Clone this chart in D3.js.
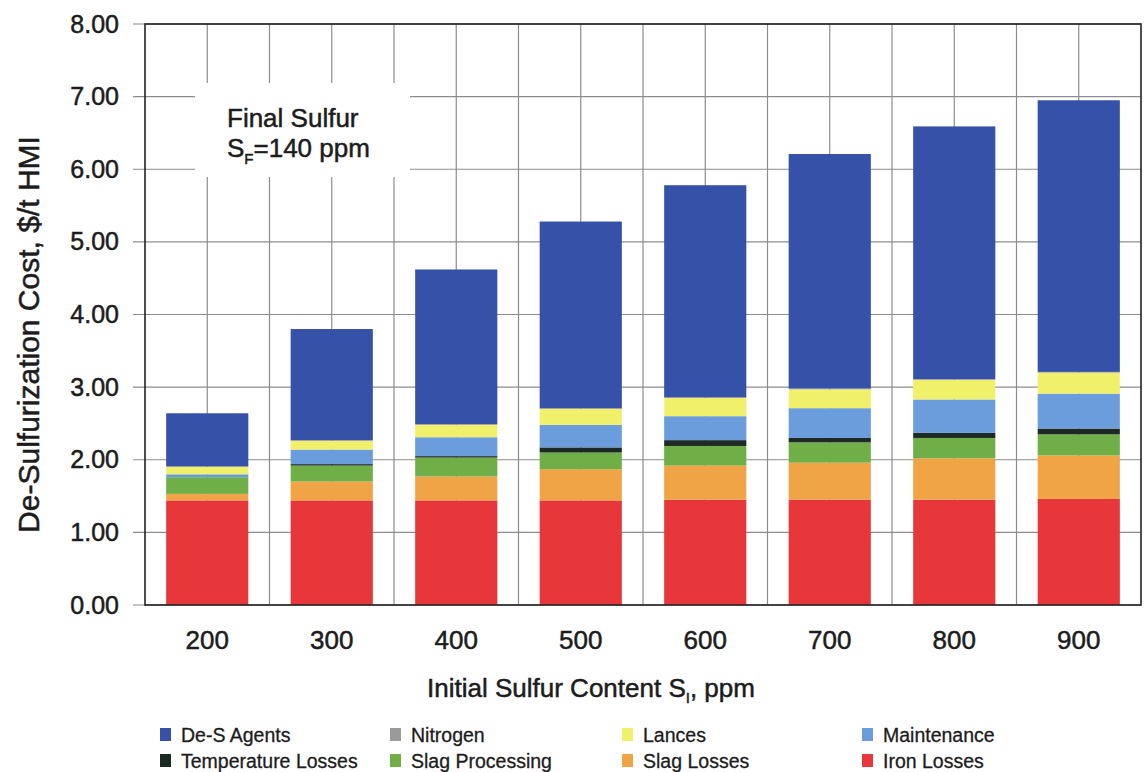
<!DOCTYPE html>
<html>
<head>
<meta charset="utf-8">
<script src="https://cdn.jsdelivr.net/npm/d3@7"></script>
<style>
  html, body { margin: 0; padding: 0; background: #fff; }
  svg { display: block; font-family: "Liberation Sans", Arial, Helvetica, sans-serif; }
</style>
</head>
<body>
<svg id="chart" width="1144" height="772"></svg>
<script>
// Initial sulfur content categories (ppm)
const categories = ["200", "300", "400", "500", "600", "700", "800", "900"];

// Cost components, $/t HMI, listed bottom of the stack first
const ironLosses      = [1.44, 1.44, 1.44, 1.44, 1.45, 1.45, 1.45, 1.46];
const slagLosses      = [0.09, 0.26, 0.33, 0.43, 0.47, 0.51, 0.57, 0.60];
const slagProcessing  = [0.23, 0.22, 0.26, 0.23, 0.27, 0.28, 0.28, 0.29];
const temperatureLoss = [0.00, 0.02, 0.02, 0.07, 0.08, 0.06, 0.07, 0.08];
const maintenance     = [0.04, 0.20, 0.26, 0.31, 0.33, 0.41, 0.46, 0.48];
const lances          = [0.10, 0.12, 0.17, 0.22, 0.25, 0.26, 0.27, 0.29];
const nitrogen        = [0.01, 0.01, 0.01, 0.01, 0.01, 0.01, 0.01, 0.01];
const deSAgents       = [0.73, 1.53, 2.13, 2.57, 2.92, 3.23, 3.48, 3.74];

// Value axis ticks
const yTicks = [0, 1, 2, 3, 4, 5, 6, 7, 8];

// Series keys in stacking order (bottom to top)
const stackKeys = ["Iron Losses", "Slag Losses", "Slag Processing", "Temperature Losses",
                   "Maintenance", "Lances", "Nitrogen", "De-S Agents"];
const seriesValues = {
  "Iron Losses": ironLosses,
  "Slag Losses": slagLosses,
  "Slag Processing": slagProcessing,
  "Temperature Losses": temperatureLoss,
  "Maintenance": maintenance,
  "Lances": lances,
  "Nitrogen": nitrogen,
  "De-S Agents": deSAgents
};

// Legend layout order (two rows of four)
const legendOrder = ["De-S Agents", "Nitrogen", "Lances", "Maintenance",
                     "Temperature Losses", "Slag Processing", "Slag Losses", "Iron Losses"];

const colors = {
  "De-S Agents": "#3651a8",
  "Nitrogen": "#9a9a9a",
  "Lances": "#f1f06a",
  "Maintenance": "#6b9ddd",
  "Temperature Losses": "#1d2a24",
  "Slag Processing": "#70ae48",
  "Slag Losses": "#f0a445",
  "Iron Losses": "#e8373a"
};

const svg = d3.select("#chart");
const plot = { left: 145, right: 1141, top: 24, bottom: 605 };

const x = d3.scaleBand()
  .domain(categories)
  .range([plot.left, plot.right])
  .paddingInner(0.34)
  .paddingOuter(0.17);

const y = d3.scaleLinear()
  .domain([0, 8])
  .range([plot.bottom, plot.top]);

const rows = categories.map((c, i) => {
  const r = { category: c };
  stackKeys.forEach(k => { r[k] = seriesValues[k][i]; });
  return r;
});
const stacked = d3.stack().keys(stackKeys)(rows);

const gridColor = "#8c8c8c";
const textColor = "#1c1c1c";

// Slightly heavier text, like the printed labels
function heavy(sel, w) {
  return sel.attr("stroke", textColor).attr("stroke-width", w).attr("paint-order", "stroke");
}

// Horizontal gridlines (extending left of the axis as tick marks)
svg.append("g")
  .selectAll("line")
  .data(yTicks)
  .join("line")
  .attr("x1", plot.left - 12)
  .attr("x2", plot.right)
  .attr("y1", d => y(d))
  .attr("y2", d => y(d))
  .attr("stroke", gridColor)
  .attr("stroke-width", 1.2);

// Vertical gridlines at category centres and midway between categories
const step = x.step();
const vLines = [];
categories.forEach((c, i) => {
  const cx = x(c) + x.bandwidth() / 2;
  vLines.push(cx);
  if (i < categories.length - 1) vLines.push(cx + step / 2);
});
svg.append("g")
  .selectAll("line")
  .data(vLines)
  .join("line")
  .attr("x1", d => d)
  .attr("x2", d => d)
  .attr("y1", plot.top)
  .attr("y2", plot.bottom)
  .attr("stroke", gridColor)
  .attr("stroke-width", 1.2);

// Annotation box masking the grid
svg.append("rect")
  .attr("x", 195).attr("y", 83)
  .attr("width", 215).attr("height", 94)
  .attr("fill", "#fff");

const note = svg.append("g")
  .attr("fill", textColor)
  .attr("font-size", 26);
heavy(note, 0.5);
note.append("text")
  .attr("x", 227).attr("y", 127)
  .text("Final Sulfur");
const sf = note.append("text")
  .attr("x", 227).attr("y", 157);
sf.append("tspan").text("S");
sf.append("tspan").attr("font-size", 15).attr("dy", 7).text("F");
sf.append("tspan").attr("dy", -7).text("=140 ppm");

// Stacked bars
svg.append("g")
  .selectAll("g")
  .data(stacked)
  .join("g")
  .attr("fill", d => colors[d.key])
  .selectAll("rect")
  .data(d => d)
  .join("rect")
  .attr("x", d => x(d.data.category))
  .attr("width", x.bandwidth())
  .attr("y", d => y(d[1]))
  .attr("height", d => Math.max(0, y(d[0]) - y(d[1])));

// Plot frame
svg.append("rect")
  .attr("x", plot.left).attr("y", plot.top)
  .attr("width", plot.right - plot.left)
  .attr("height", plot.bottom - plot.top)
  .attr("fill", "none")
  .attr("stroke", "#222")
  .attr("stroke-width", 1.6);

// Y axis labels
const yAxis = d3.axisLeft(y)
  .tickValues(yTicks)
  .tickFormat(d3.format(".2f"))
  .tickSize(0)
  .tickPadding(26);
const gy = svg.append("g")
  .attr("transform", `translate(${plot.left},0)`)
  .call(yAxis);
gy.select(".domain").remove();
heavy(gy.selectAll("text")
  .attr("font-size", 25)
  .attr("fill", textColor)
  .attr("font-family", "Liberation Sans, Arial, sans-serif"), 0.5);

// X axis labels
const xAxis = d3.axisBottom(x).tickSize(0).tickPadding(26);
const gx = svg.append("g")
  .attr("transform", `translate(0,${plot.bottom})`)
  .call(xAxis);
gx.select(".domain").remove();
heavy(gx.selectAll("text")
  .attr("font-size", 26)
  .attr("fill", textColor)
  .attr("font-family", "Liberation Sans, Arial, sans-serif"), 0.5);

// Axis titles
heavy(svg.append("text")
  .attr("transform", `translate(39,${(plot.top + plot.bottom) / 2 + 20}) rotate(-90)`)
  .attr("text-anchor", "middle")
  .attr("font-size", 30)
  .attr("fill", textColor)
  .text("De-Sulfurization Cost, $/t HMI"), 0.5);

const xt = svg.append("text")
  .attr("x", 591).attr("y", 697)
  .attr("text-anchor", "middle")
  .attr("font-size", 26)
  .attr("fill", textColor);
heavy(xt, 0.5);
xt.append("tspan").text("Initial Sulfur Content S");
xt.append("tspan").attr("font-size", 15).attr("dy", 6).text("I");
xt.append("tspan").attr("dy", -6).text(", ppm");

// Legend
const legendCols = [160, 390, 622, 862];
const legendRows = [735, 761];
const legend = svg.append("g")
  .selectAll("g")
  .data(legendOrder)
  .join("g")
  .attr("transform", (d, i) => `translate(${legendCols[i % 4]},${legendRows[Math.floor(i / 4)]})`);
legend.append("rect")
  .attr("x", 0).attr("y", -7)
  .attr("width", 11).attr("height", 13)
  .attr("fill", d => colors[d]);
heavy(legend.append("text")
  .attr("x", 21).attr("y", 7)
  .attr("font-size", 19.5)
  .attr("fill", textColor)
  .text(d => d), 0.3);
</script>
</body>
</html>
